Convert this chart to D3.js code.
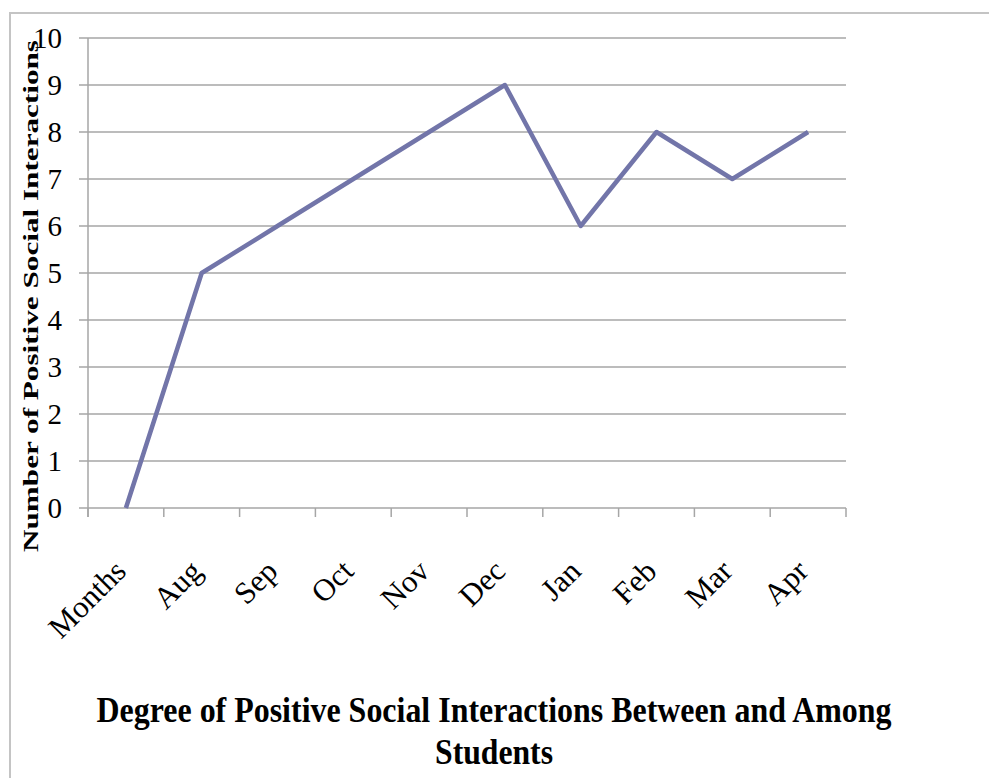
<!DOCTYPE html>
<html>
<head>
<meta charset="utf-8">
<script src="https://cdn.jsdelivr.net/npm/d3@7"></script>
<style>
  html, body { margin: 0; padding: 0; background: #fff; }
  svg { display: block; }
</style>
</head>
<body>
<svg id="chart" width="989" height="778"></svg>
<script>
// Monthly counts of positive social interactions
const months = ["Months", "Aug", "Sep", "Oct", "Nov", "Dec", "Jan", "Feb", "Mar", "Apr"];
const interactions = [0, 5, 6, 7, 8, 9, 6, 8, 7, 8];
const yTicks = [0, 1, 2, 3, 4, 5, 6, 7, 8, 9, 10];

const titleLines = ["Degree of Positive Social Interactions Between and Among", "Students"];
const yTitle = "Number of Positive Social Interactions";

const svg = d3.select("#chart");
const margin = { left: 88, right: 143, top: 38, bottom: 270 };
const W = 989, H = 778;

// outer chart frame
svg.append("rect")
  .attr("x", 10).attr("y", 13)
  .attr("width", 1100).attr("height", 900)
  .attr("fill", "none").attr("stroke", "#c4c4c4").attr("stroke-width", 2);

const x = d3.scaleBand().domain(months)
  .range([margin.left, W - margin.right]).padding(0);
const y = d3.scaleLinear().domain([0, 10])
  .range([H - margin.bottom, margin.top]);

const serif = "'Liberation Serif', 'DejaVu Serif', serif";
const gridColor = "#a6a6a6";

// horizontal gridlines with outward tick stubs
svg.append("g").selectAll("line").data(yTicks).join("line")
  .attr("x1", x.range()[0] - 9).attr("x2", x.range()[1])
  .attr("y1", d => y(d)).attr("y2", d => y(d))
  .attr("stroke", gridColor).attr("stroke-width", 1.5);

// y tick labels
svg.append("g").selectAll("text").data(yTicks).join("text")
  .attr("x", 62).attr("y", d => y(d))
  .attr("dy", "0.33em")
  .attr("text-anchor", "end")
  .style("font-family", serif).style("font-size", "29px").attr("fill", "#000")
  .text(d => d);

// vertical axis line
svg.append("line")
  .attr("x1", x.range()[0]).attr("x2", x.range()[0])
  .attr("y1", y(10)).attr("y2", y(0) + 9)
  .attr("stroke", gridColor).attr("stroke-width", 1.5);

// category boundaries as tick marks below the baseline
const bounds = months.map(m => x(m)).concat([x.range()[1]]);
svg.append("g").selectAll("line").data(bounds).join("line")
  .attr("x1", d => d).attr("x2", d => d)
  .attr("y1", y(0)).attr("y2", y(0) + 9)
  .attr("stroke", gridColor).attr("stroke-width", 1.5);

// category labels rotated -45°
svg.append("g").selectAll("text").data(months).join("text")
  .attr("transform", d => `translate(${x(d) + x.bandwidth() / 2 + 2},${y(0) + 65}) rotate(-45)`)
  .attr("text-anchor", "end")
  .style("font-family", serif).style("font-size", "31px").attr("fill", "#000")
  .text(d => d);

// data line
const line = d3.line()
  .x((d, i) => x(months[i]) + x.bandwidth() / 2)
  .y(d => y(d));
svg.append("path")
  .datum(interactions)
  .attr("d", line)
  .attr("fill", "none")
  .attr("stroke", "#7275A9")
  .attr("stroke-width", 4.5)
  .attr("stroke-linejoin", "round");

// y axis title
svg.append("text")
  .attr("transform", "translate(38,296) rotate(-90)")
  .attr("text-anchor", "middle")
  .style("font-family", serif).style("font-weight", "bold")
  .style("font-size", "21px").attr("fill", "#000")
  .attr("textLength", 512).attr("lengthAdjust", "spacingAndGlyphs")
  .text(yTitle);

// chart title, two centred lines, stretched vertically for a condensed look
const titleRows = [{ text: titleLines[0], y: 722, len: 795 }, { text: titleLines[1], y: 764, len: 118 }];
svg.append("g").selectAll("text").data(titleRows).join("text")
  .attr("transform", d => `translate(494,${d.y}) scale(1,1.16)`)
  .attr("text-anchor", "middle")
  .style("font-family", serif).style("font-weight", "bold")
  .style("font-size", "31px").attr("fill", "#000")
  .attr("textLength", d => d.len).attr("lengthAdjust", "spacingAndGlyphs")
  .text(d => d.text);
</script>
</body>
</html>
